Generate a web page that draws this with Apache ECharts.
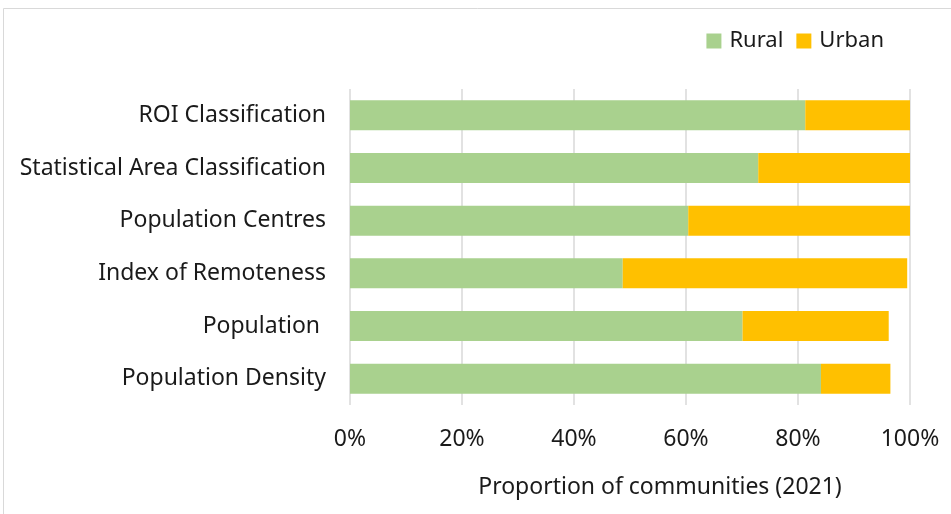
<!DOCTYPE html>
<html><head><meta charset="utf-8">
<script src="https://cdn.jsdelivr.net/npm/echarts@6/dist/echarts.min.js"></script>
<style>html,body{margin:0;padding:0;background:#fff}#c{width:951px;height:514px}</style>
</head><body><div id="c"></div>
<script>
var categories = ['ROI Classification','Statistical Area Classification','Population Centres','Index of Remoteness','Population ','Population Density'];
var rural = [81.3, 72.9, 60.4, 48.7, 70.1, 84.1];
var urban = [18.7, 27.1, 39.6, 50.8, 26.1, 12.4];
var xTicks = [0, 20, 40, 60, 80, 100];
var font = 'Noto Sans';
var fs = 23;
var chart = echarts.init(document.getElementById('c'));
chart.setOption({
  animation: false,
  backgroundColor: '#fff',
  graphic: [{type:'rect', shape:{x:3.5,y:8.5,width:960,height:520}, style:{fill:'none', stroke:'#d9d9d9', lineWidth:1}}],
  legend: {
    top: 25, right: 62, itemWidth: 15, itemHeight: 15, itemGap: 13,
    icon: 'rect',
    textStyle: {fontFamily: font, fontSize: 22, color: '#1a1a1a', padding: [0,0,0,3]},
    data: ['Rural','Urban']
  },
  grid: {left: 350, right: 41, top: 89, bottom: 109},
  xAxis: {
    type: 'value', min: 0, max: 100, interval: 20,
    axisLabel: {formatter: function(v){return v + '%';}, fontFamily: font, fontSize: fs, color: '#1a1a1a', margin: 23},
    splitLine: {show: true, lineStyle: {color: '#d9d9d9', width: 1.5}},
    axisLine: {show: false}, axisTick: {show: false},
    name: 'Proportion of communities (2021)', nameLocation: 'middle', nameGap: 71,
    nameTextStyle: {fontFamily: font, fontSize: fs, color: '#1a1a1a', padding: [0,0,0,60]}
  },
  yAxis: {
    type: 'category', data: categories, inverse: true,
    axisLabel: {fontFamily: font, fontSize: fs, color: '#1a1a1a', margin: 24},
    axisLine: {show: false}, axisTick: {show: false}
  },
  series: [
    {name: 'Rural', type: 'bar', stack: 's', data: rural, barCategoryGap: '43%', itemStyle: {color: '#A9D18E'}},
    {name: 'Urban', type: 'bar', stack: 's', data: urban, itemStyle: {color: '#FFC000'}}
  ]
});
</script></body></html>
